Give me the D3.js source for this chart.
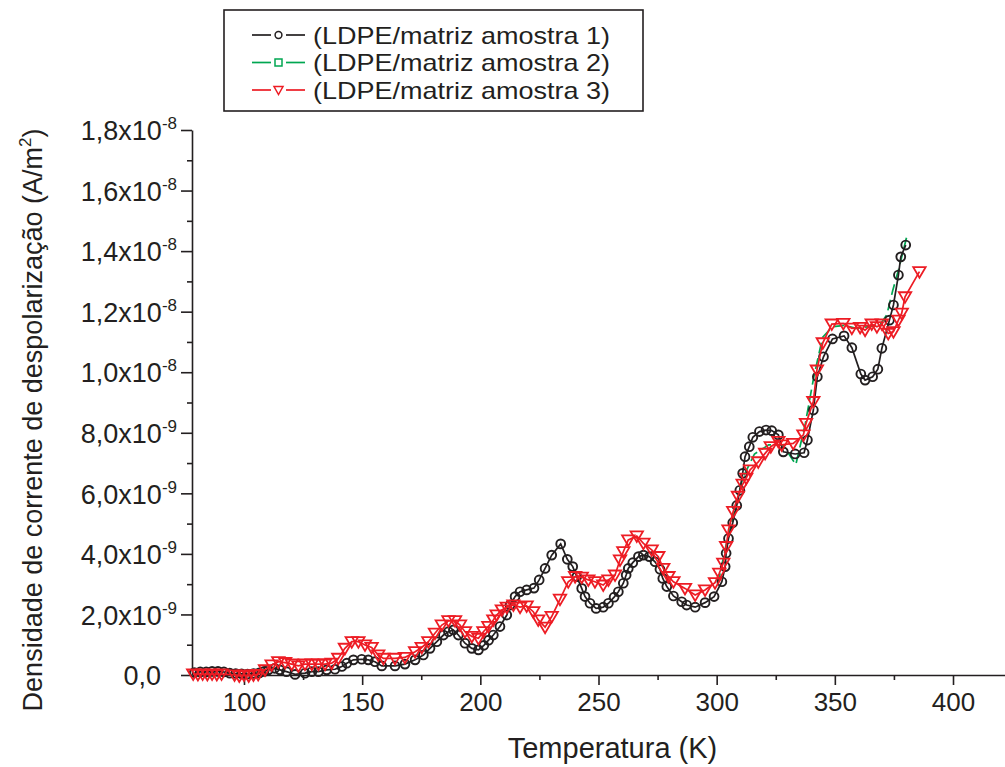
<!DOCTYPE html>
<html>
<head>
<meta charset="utf-8">
<script src="https://cdnjs.cloudflare.com/ajax/libs/d3/7.8.5/d3.min.js"></script>
<style>
  body { margin: 0; background: #fff; }
  svg { font-family: "Liberation Sans", Arial, sans-serif; }
  .axis path, .axis line { stroke: #231f20; stroke-width: 1.6; }
  .axis text { fill: #231f20; }
</style>
</head>
<body>
<div id="chart"></div>
<script>
// dados: temperatura (K) e densidade de corrente (unidade 1e-9 A/m2)
var amostra1_T = [79, 81.5, 84, 86.5, 89, 91.5, 94, 96.5, 99, 101.5, 104, 106.5, 108.5, 110.3, 113, 115.2, 118, 121.6,
  125.8, 128.7, 131.5, 135, 138.5, 141.4, 143.5, 146.3, 149.8, 152.6, 155.4, 158.3, 163.9, 168.1, 172.4, 175.9,
  178.7, 181.6, 184.4, 186.5, 188.6, 190.7, 193.5, 196.4, 199.2, 201.5, 203.5, 205.5, 208.3, 211.2, 212.6, 214.7,
  216.8, 219.6, 222.7, 224.9, 227.4, 230.2, 234, 236.8, 239.1, 240.8, 242.9, 244.3, 246.4, 249, 252, 254.2, 256.6,
  258.4, 260.5, 261.7, 262.6, 264.5, 266.9, 269, 271.5, 273.9, 276, 277.2, 278.9, 281.7, 285.2, 287.3, 290.9,
  295.1, 298.9, 302.2, 303.6, 304, 305, 306.8, 308.5, 309.8, 311, 312, 313.8, 315.3, 318.1, 320.9, 323.3, 326.1,
  328.2, 333.2, 337, 338.4, 340.9, 342.6, 345.2, 349, 353.9, 357.2, 361, 362.8, 366, 368.2, 369.9, 373.1, 374.8,
  376.9, 377.9, 380];
var amostra1_J = [0.08, 0.1, 0.1, 0.12, 0.12, 0.1, 0.06, 0.05, 0.04, 0.03, 0.05, 0.07, 0.12, 0.17, 0.22, 0.17, 0.11, 0.02,
  0.06, 0.11, 0.11, 0.17, 0.19, 0.28, 0.39, 0.5, 0.52, 0.5, 0.44, 0.3, 0.3, 0.36, 0.5, 0.66,
  0.88, 1.1, 1.32, 1.43, 1.49, 1.32, 1.05, 0.88, 0.83, 0.98, 1.15, 1.32, 1.6, 1.98, 2.31, 2.59,
  2.75, 2.81, 2.87, 3.14, 3.52, 3.96, 4.33, 3.82, 3.58, 3.25, 2.86, 2.59, 2.37, 2.2, 2.24, 2.37, 2.57,
  2.75, 3.03, 3.3, 3.52, 3.71, 3.91, 3.96, 3.91, 3.74, 3.49, 3.19, 2.92, 2.61, 2.42, 2.31, 2.24,
  2.39, 2.59, 3.08, 3.58, 4.02, 4.51, 5.03, 5.6, 6.1, 6.66, 7.21, 7.54, 7.85, 8.04, 8.09, 8.07, 7.93,
  7.37, 7.3, 7.34, 7.76, 8.75, 9.85, 10.51, 11.1, 11.2, 10.81, 9.94, 9.74, 9.85, 10.1, 10.79, 11.72, 12.22,
  13.21, 13.81, 14.2];

// amostra 2 fica quase toda escondida atrás das outras
var amostra2_T = [300.5, 304, 307.5, 311, 316, 322, 328, 333.5, 337.5, 341, 344.8, 349, 354, 359, 364, 369, 372, 374.5, 377, 380.5];
var amostra2_J = [3.0, 4.3, 5.4, 6.5, 7.3, 7.6, 7.6, 6.95, 8.3, 9.8, 11.15, 11.5, 11.55, 11.45, 11.5, 11.55, 11.9, 12.7, 13.4, 14.5];

var amostra3_T = [78.5, 80.5, 82.5, 84.5, 86.5, 88.5, 90.5, 96, 98, 100, 102, 104, 106, 108.9, 111.7, 114.5, 117.4, 120.2,
  123, 125.8, 128.7, 131.5, 134.3, 137.1, 139.9, 142.7, 145.6, 148.4, 151.2, 154, 156.8, 159, 163.9, 168.1,
  172.4, 175.2, 178, 180.8, 183.7, 186.5, 189.3, 191.4, 193.5, 196.4, 199.2, 201.3, 203.4, 205.5, 206.9, 209.1,
  211.2, 214, 216.8, 219.6, 222.4, 224.5, 227.4, 230.2, 233.7, 237.2, 240.1, 242.9, 245.7, 248.5, 252, 254.2,
  257, 259.1, 260.5, 262.6, 266.2, 269, 272.5, 275.3, 277.4, 279.6, 281.7, 286.6, 290.9, 295.1, 299.3, 301.1,
  302.8, 304, 305, 307, 309, 311, 312.5, 314.1, 317.6, 320.5, 322.9, 326.1, 327.5, 332.4, 336.7, 337.8, 340.9,
  342.4, 344.9, 348.7, 353.6, 357.2, 360.7, 362.8, 365.6, 367.8, 369.9, 372.6, 374.8, 376.9, 378.3, 379.7, 385.8];
var amostra3_J = [0.03, 0.02, 0.03, 0.02, 0.03, 0.02, 0.03, 0.0, -0.03, 0.0, -0.03, 0.0, 0.02, 0.17, 0.33, 0.44, 0.41, 0.36,
  0.3, 0.36, 0.36, 0.36, 0.36, 0.39, 0.55, 0.88, 1.1, 1.1, 0.99, 0.91, 0.66, 0.55, 0.55, 0.58,
  0.77, 0.91, 1.1, 1.38, 1.65, 1.79, 1.79, 1.65, 1.43, 1.27, 1.21, 1.43, 1.6, 1.82, 1.98, 2.15,
  2.24, 2.31, 2.24, 2.28, 2.09, 1.82, 1.58, 1.93, 2.5, 3.08, 3.25, 3.23, 3.14, 3.08, 2.97, 3.14,
  3.3, 3.8, 4.07, 4.46, 4.59, 4.35, 4.13, 3.91, 3.52, 3.25, 3.08, 2.86, 2.64, 2.81, 3.05, 3.36,
  3.69, 4.24, 4.79, 5.4, 5.9, 6.3, 6.5, 6.77, 7.04, 7.32, 7.54, 7.71, 7.6, 7.65, 7.93, 8.31, 9.03,
  10.07, 10.97, 11.59, 11.61, 11.45, 11.48, 11.39, 11.59, 11.5, 11.59, 11.28, 11.34, 11.72, 11.95, 12.49, 13.32];

var xTicks = [100, 150, 200, 250, 300, 350, 400];
var yTicks = [0, 2, 4, 6, 8, 10, 12, 14, 16, 18];
var legendLabels = ["(LDPE/matriz amostra 1)", "(LDPE/matriz amostra 2)", "(LDPE/matriz amostra 3)"];

var W = 1005, H = 767;
var margin = {top: 130, right: 0, bottom: 92, left: 192},
    width = W - margin.left - margin.right,
    height = H - margin.top - margin.bottom;

var corPreto = "#231f20", corVerde = "#00a651", corVermelho = "#ed1c24";

var svg = d3.select("#chart").append("svg")
    .attr("width", W)
    .attr("height", H);

var g = svg.append("g")
    .attr("transform", "translate(" + margin.left + "," + margin.top + ")");

var x = d3.scaleLinear().domain([78, 422]).range([0, width]);
var y = d3.scaleLinear().domain([0, 18]).range([height, 0]);

// ticks menores
g.append("g")
    .attr("class", "axis")
    .attr("transform", "translate(0," + height + ")")
    .call(d3.axisBottom(x).tickValues([125, 175, 225, 275, 325, 375]).tickSize(5).tickSizeOuter(0).tickFormat(""))
    .select(".domain").remove();

g.append("g")
    .attr("class", "axis")
    .call(d3.axisLeft(y).tickValues([1, 3, 5, 7, 9, 11, 13, 15, 17]).tickSize(5).tickSizeOuter(0).tickFormat(""))
    .select(".domain").remove();

var xAxis = g.append("g")
    .attr("class", "axis")
    .attr("transform", "translate(0," + height + ")")
    .call(d3.axisBottom(x).tickValues(xTicks).tickSize(10).tickSizeOuter(0).tickPadding(8));

xAxis.selectAll(".tick text")
    .attr("font-size", 26)
    .attr("font-family", "Liberation Sans, Arial, sans-serif");

var yAxis = g.append("g")
    .attr("class", "axis")
    .call(d3.axisLeft(y).tickValues(yTicks).tickSize(11).tickSizeOuter(0).tickPadding(4).tickFormat(""));

yAxis.selectAll(".tick text").each(function(d) {
    var t = d3.select(this)
        .attr("font-size", 27)
        .attr("font-family", "Liberation Sans, Arial, sans-serif")
        .attr("dy", "0.36em");
    if (d === 0) {
        t.attr("x", -31).text("0,0");
        return;
    }
    var val = d * 1e-9;
    var e = Math.floor(Math.log10(val) + 1e-9);
    var m = val / Math.pow(10, e);
    t.attr("x", -15);
    t.append("tspan").text(m.toFixed(1).replace(".", ",") + "x10");
    t.append("tspan").attr("dy", -11).attr("font-size", 17).text(e);
});

// séries
function drawSeries(T, J, color, dash) {
    var pts = T.map(function(d, i) { return [d, J[i]]; });
    var line = d3.line()
        .x(function(d) { return x(d[0]); })
        .y(function(d) { return y(d[1]); });
    g.append("path")
        .datum(pts)
        .attr("d", line)
        .attr("fill", "none")
        .attr("stroke", color)
        .attr("stroke-width", 1.7)
        .attr("stroke-dasharray", dash || null);
    return pts;
}

var tri = "M-6.2,-4.6L6.2,-4.6L0,6Z";

var p2 = drawSeries(amostra2_T, amostra2_J, corVerde, "11,5");

var p1 = drawSeries(amostra1_T, amostra1_J, corPreto);
g.append("g").selectAll("circle")
    .data(p1)
    .enter()
    .append("circle")
    .attr("cx", function(d) { return x(d[0]); })
    .attr("cy", function(d) { return y(d[1]); })
    .attr("r", 4.4)
    .attr("fill", "none")
    .attr("stroke", corPreto)
    .attr("stroke-width", 1.9);

var p3 = drawSeries(amostra3_T, amostra3_J, corVermelho);
g.append("g").selectAll("path")
    .data(p3)
    .enter()
    .append("path")
    .attr("d", tri)
    .attr("transform", function(d) { return "translate(" + x(d[0]) + "," + y(d[1]) + ")"; })
    .attr("fill", "none")
    .attr("stroke", corVermelho)
    .attr("stroke-width", 1.8);

// títulos dos eixos
svg.append("text")
    .attr("x", margin.left + x(250) + 14)
    .attr("y", 758)
    .attr("text-anchor", "middle")
    .attr("font-size", 29)
    .attr("fill", corPreto)
    .text("Temperatura (K)");

var yTitle = svg.append("text")
    .attr("transform", "translate(42," + 420 + ") rotate(-90)")
    .attr("text-anchor", "middle")
    .attr("font-size", 27)
    .attr("fill", corPreto);
yTitle.append("tspan").text("Densidade de corrente de despolarização (A/m");
yTitle.append("tspan").attr("dy", -11).attr("font-size", 17).text("2");
yTitle.append("tspan").attr("dy", 11).text(")");

// legenda
var legend = svg.append("g");
legend.append("rect")
    .attr("x", 224).attr("y", 10)
    .attr("width", 419).attr("height", 101)
    .attr("fill", "#fff")
    .attr("stroke", corPreto)
    .attr("stroke-width", 1.6);

var legColors = [corPreto, corVerde, corVermelho];
legendLabels.forEach(function(lab, i) {
    var cy = 35 + i * 27.5;
    var row = legend.append("g");
    row.append("line").attr("x1", 252).attr("x2", 271).attr("y1", cy).attr("y2", cy)
        .attr("stroke", legColors[i]).attr("stroke-width", 1.7);
    row.append("line").attr("x1", 286).attr("x2", 305).attr("y1", cy).attr("y2", cy)
        .attr("stroke", legColors[i]).attr("stroke-width", 1.7);
    if (i === 0) {
        row.append("circle").attr("cx", 278.5).attr("cy", cy).attr("r", 3.4)
            .attr("fill", "none").attr("stroke", corPreto).attr("stroke-width", 1.5);
    } else if (i === 1) {
        row.append("rect").attr("x", 275).attr("y", cy - 3.5).attr("width", 7).attr("height", 7)
            .attr("fill", "none").attr("stroke", corVerde).attr("stroke-width", 1.5);
    } else {
        row.append("path").attr("d", "M-4.5,-3.5L4.5,-3.5L0,4.5Z")
            .attr("transform", "translate(278.5," + cy + ")")
            .attr("fill", "none").attr("stroke", corVermelho).attr("stroke-width", 1.5);
    }
    row.append("text")
        .attr("x", 313).attr("y", cy + 8.5)
        .attr("font-size", 24)
        .attr("textLength", 297)
        .attr("lengthAdjust", "spacingAndGlyphs")
        .attr("fill", corPreto)
        .text(lab);
});
</script>
</body>
</html>
